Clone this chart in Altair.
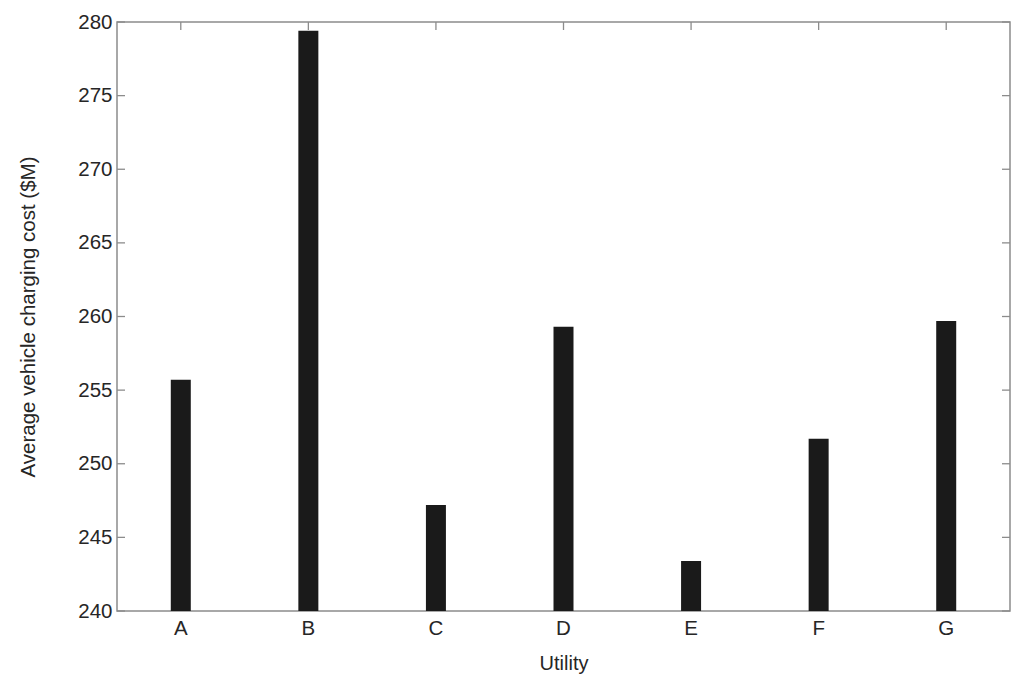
import altair as alt
import pandas as pd

utilities = ["A", "B", "C", "D", "E", "F", "G"]
costs = [255.7, 279.4, 247.2, 259.3, 243.4, 251.7, 259.7]
y_ticks = [240, 245, 250, 255, 260, 265, 270, 275, 280]

W, H = 893, 589

df = pd.DataFrame({"utility": utilities, "cost": costs})
ticks_df = pd.DataFrame({"v": y_ticks})
cat_df = pd.DataFrame({"utility": utilities})

FONT = "Liberation Sans"
TEXT = "#262626"
FRAME = "#8c8c8c"

x_scale = alt.Scale(domain=utilities, paddingInner=0, paddingOuter=0)
y_scale = alt.Scale(domain=[240, 280], nice=False, zero=False)

x_axis = alt.Axis(title="Utility", labelAngle=0, ticks=False, domain=False, grid=False,
                  labelAlign="center", labelBaseline="top",
                  labelFontSize=20.5, titleFontSize=20, labelPadding=7,
                  titlePadding=15, labelColor=TEXT, titleColor=TEXT,
                  labelFont=FONT, titleFont=FONT, titleFontWeight="normal")
y_axis = alt.Axis(title="Average vehicle charging cost ($M)", values=y_ticks,
                  ticks=False, domain=False, grid=False,
                  labelFontSize=20.5, titleFontSize=20.5, labelPadding=5,
                  titlePadding=39, labelColor=TEXT, titleColor=TEXT,
                  labelFont=FONT, titleFont=FONT, titleFontWeight="normal")

X = lambda: alt.X("utility:N", scale=x_scale, sort=utilities, axis=x_axis, title="Utility")
Yc = alt.Y("cost:Q", scale=y_scale, axis=y_axis, title="Average vehicle charging cost ($M)")
Yv = alt.Y("v:Q", scale=y_scale, axis=y_axis, title="Average vehicle charging cost ($M)")

bars = alt.Chart(df).mark_bar(color="#1a1a1a", size=20, clip=True).encode(
    x=X(), y=Yc, y2=alt.datum(240))

left_ticks = alt.Chart(ticks_df).mark_rule(color=FRAME, strokeWidth=1.3).encode(
    y=Yv, x=alt.value(0), x2=alt.value(8))
right_ticks = alt.Chart(ticks_df).mark_rule(color=FRAME, strokeWidth=1.3).encode(
    y=Yv, x=alt.value(W - 8), x2=alt.value(W))
top_ticks = alt.Chart(cat_df).mark_rule(color=FRAME, strokeWidth=1.3).encode(
    x=X(), y=alt.value(0), y2=alt.value(8))
bottom_ticks = alt.Chart(cat_df).mark_rule(color=FRAME, strokeWidth=1.3).encode(
    x=X(), y=alt.value(H - 8), y2=alt.value(H))

chart = alt.layer(left_ticks, right_ticks, top_ticks, bottom_ticks, bars).properties(
    width=W, height=H,
    background="white",
    autosize=alt.AutoSizeParams(type="none"),
    padding={"left": 109, "top": 14, "right": 6, "bottom": 68},
).configure_view(stroke=FRAME, strokeWidth=1.5)

chart.save("out.html", embed_options={"renderer": "svg", "actions": False})
